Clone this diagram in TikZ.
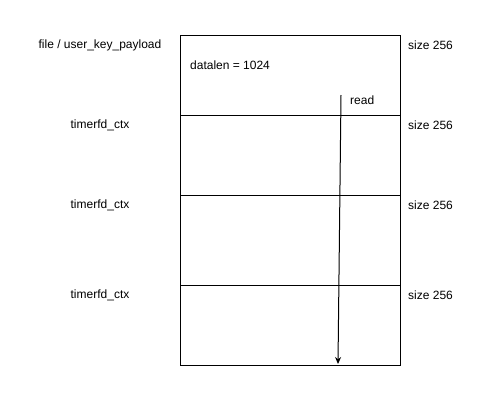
\documentclass[tikz,border=0pt]{standalone}
\usepackage{fontspec}
\setmainfont{Liberation Sans}
\usetikzlibrary{arrows.meta}
\begin{document}
\begin{tikzpicture}[x=1pt,y=-1pt,
  cell/.style={draw,line width=1pt,inner sep=0pt},
  lbl/.style={font=\fontsize{12}{14}\selectfont,inner sep=0pt},
  >={Stealth[length=7pt,width=6pt]}]
\useasboundingbox (0,0) rectangle (490,402);
\node[cell,minimum width=220pt,minimum height=80pt,anchor=north west] (r1) at (180,35) {};
\node[cell,minimum width=220pt,minimum height=80pt,anchor=north west] (r2) at (180,115) {};
\node[cell,minimum width=220pt,minimum height=90pt,anchor=north west] (r3) at (180,195) {};
\node[cell,minimum width=220pt,minimum height=80pt,anchor=north west] (r4) at (180,285) {};
\node[lbl] (l1) at (100,45) {file / user\_key\_payload};
\node[lbl] (l2) at (100,125) {timerfd\_ctx};
\node[lbl] (l3) at (100,205) {timerfd\_ctx};
\node[lbl] (l4) at (100,295) {timerfd\_ctx};
\node[lbl,anchor=west] (s1) at (408,45) {size 256};
\node[lbl,anchor=west] (s2) at (408,125) {size 256};
\node[lbl,anchor=west] (s3) at (408,205) {size 256};
\node[lbl,anchor=west] (s4) at (408,295) {size 256};
\node[lbl,anchor=west] (d) at (190,65) {datalen = 1024};
\node[lbl,anchor=west] (rd) at (350,100) {read};
\coordinate (a0) at (341,95);
\coordinate (a1) at (338,364);
\draw[->,line width=1pt] (a0) -- (a1);
\end{tikzpicture}
\end{document}
